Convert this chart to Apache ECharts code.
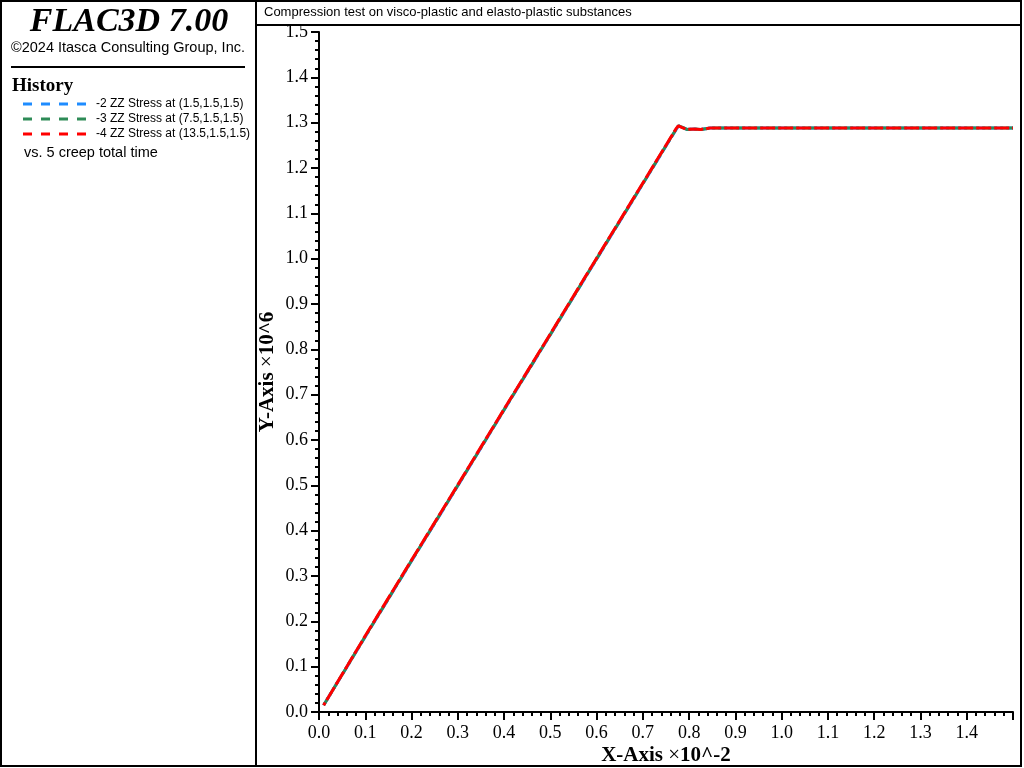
<!DOCTYPE html>
<html>
<head>
<meta charset="utf-8">
<script src="https://cdn.jsdelivr.net/npm/echarts@6/dist/echarts.min.js"></script>
<style>
  html, body { margin: 0; padding: 0; background: #fff; }
  #chart { width: 1024px; height: 768px; }
</style>
</head>
<body>
<div id="chart"></div>
<script>
// 数据 (从图中读取, x ×10^-2, y ×10^6)
const timeX = [0.01, 0.1, 0.2, 0.3, 0.4, 0.5, 0.6, 0.7, 0.76, 0.772, 0.777, 0.785, 0.795, 0.81, 0.825, 0.845, 0.9, 1.0, 1.2, 1.5];
const stress2 = [0.015, 0.166, 0.333, 0.499, 0.666, 0.832, 0.999, 1.165, 1.265, 1.285, 1.293, 1.290, 1.285, 1.286, 1.285, 1.288, 1.288, 1.288, 1.288, 1.288];
const stress3 = [0.015, 0.167, 0.334, 0.500, 0.667, 0.833, 1.000, 1.166, 1.266, 1.286, 1.293, 1.290, 1.285, 1.286, 1.285, 1.288, 1.288, 1.288, 1.288, 1.288];
const stress4 = [0.015, 0.168, 0.335, 0.501, 0.668, 0.834, 1.001, 1.167, 1.267, 1.287, 1.293, 1.289, 1.285, 1.286, 1.285, 1.288, 1.288, 1.288, 1.288, 1.288];

const seriesNames = [
    '-2 ZZ Stress at (1.5,1.5,1.5)',
    '-3 ZZ Stress at (7.5,1.5,1.5)',
    '-4 ZZ Stress at (13.5,1.5,1.5)'
];
const seriesColors = ['#1e8cff', '#2e8b57', '#ff0000'];
const seriesData = [stress2, stress3, stress4];

const chart = echarts.init(document.getElementById('chart'));

function pairs(xs, ys) {
    return xs.map(function(x, i) { return [x, ys[i]]; });
}

const serif = '"Liberation Serif", "Times New Roman"';
const sans = '"Liberation Sans", Arial';

// 左侧面板 + 边框
const graphics = [
    { type: 'rect', shape: { x: 1, y: 1, width: 1020, height: 765 }, style: { fill: 'none', stroke: '#000', lineWidth: 2 }, z: 10 },
    { type: 'line', shape: { x1: 256, y1: 1, x2: 256, y2: 766 }, style: { stroke: '#000', lineWidth: 2 }, z: 10 },
    { type: 'line', shape: { x1: 256, y1: 25, x2: 1021, y2: 25 }, style: { stroke: '#000', lineWidth: 2 }, z: 10 },
    { type: 'text', x: 264, y: 12, style: { text: 'Compression test on visco-plastic and elasto-plastic substances', font: '13px ' + sans, fill: '#000', verticalAlign: 'middle' } },
    { type: 'text', x: 129, y: 22, style: { text: 'FLAC3D 7.00', font: 'italic bold 34px ' + serif, fill: '#000', align: 'center', verticalAlign: 'middle' } },
    { type: 'text', x: 128, y: 48, style: { text: '©2024 Itasca Consulting Group, Inc.', font: '14.5px ' + sans, fill: '#000', align: 'center', verticalAlign: 'middle' } },
    { type: 'line', shape: { x1: 11, y1: 67, x2: 245, y2: 67 }, style: { stroke: '#000', lineWidth: 2 } },
    { type: 'text', x: 12, y: 86, style: { text: 'History', font: 'bold 19px ' + serif, fill: '#000', verticalAlign: 'middle' } },
    { type: 'text', x: 24, y: 153, style: { text: 'vs. 5 creep total time', font: '14.5px ' + sans, fill: '#000', verticalAlign: 'middle' } }
];
seriesNames.forEach(function(name, i) {
    const y = 104 + i * 15;
    graphics.push({ type: 'line', shape: { x1: 23, y1: y, x2: 87, y2: y }, style: { stroke: seriesColors[i], lineWidth: 3, lineDash: [9, 9] } });
    graphics.push({ type: 'text', x: 96, y: y, style: { text: name, font: '12px ' + sans, fill: '#000', verticalAlign: 'middle' } });
});

const nameRich = {
    b: { fontFamily: serif, fontWeight: 'bold', fontSize: 21, color: '#000' },
    n: { fontFamily: serif, fontSize: 21, color: '#000' }
};

const option = {
    animation: false,
    backgroundColor: '#fff',
    graphic: graphics,
    grid: { left: 319, right: 11, top: 32, bottom: 56, outerBoundsMode: 'none', containLabel: false },
    xAxis: {
        type: 'value',
        min: 0,
        max: 1.5,
        interval: 0.1,
        name: '{b|X-Axis }{n|×}{b|10^-2}',
        nameLocation: 'middle',
        nameGap: 33,
        nameMoveOverlap: false,
        nameTextStyle: { rich: nameRich },
        axisLine: { show: true, onZero: false, lineStyle: { color: '#000', width: 2 } },
        axisTick: { show: true, inside: false, length: 8, lineStyle: { color: '#000', width: 2 } },
        minorTick: { show: true, splitNumber: 5, length: 4, lineStyle: { color: '#000', width: 2 } },
        splitLine: { show: false },
        axisLabel: {
            showMaxLabel: false,
            margin: 12,
            color: '#000',
            fontFamily: serif,
            fontSize: 18,
            formatter: function(v) { return v.toFixed(1); }
        }
    },
    yAxis: {
        type: 'value',
        min: 0,
        max: 1.5,
        interval: 0.1,
        name: '{b|Y-Axis }{n|×}{b|10^6}',
        nameLocation: 'middle',
        nameGap: 41,
        nameMoveOverlap: false,
        nameRotate: 90,
        nameTextStyle: { rich: nameRich },
        axisLine: { show: true, onZero: false, lineStyle: { color: '#000', width: 2 } },
        axisTick: { show: true, inside: false, length: 8, lineStyle: { color: '#000', width: 2 } },
        minorTick: { show: true, splitNumber: 5, length: 4, lineStyle: { color: '#000', width: 2 } },
        splitLine: { show: false },
        axisLabel: {
            margin: 11,
            color: '#000',
            fontFamily: serif,
            fontSize: 18,
            formatter: function(v) { return v.toFixed(1); }
        }
    },
    series: seriesNames.map(function(name, i) {
        return {
            name: name,
            type: 'line',
            showSymbol: false,
            symbol: 'none',
            clip: true,
            lineStyle: { color: seriesColors[i], width: 3, type: [15, 3], dashOffset: i * 6 },
            data: pairs(timeX, seriesData[i]),
            z: 2 + i
        };
    })
};

chart.setOption(option);
</script>
</body>
</html>
